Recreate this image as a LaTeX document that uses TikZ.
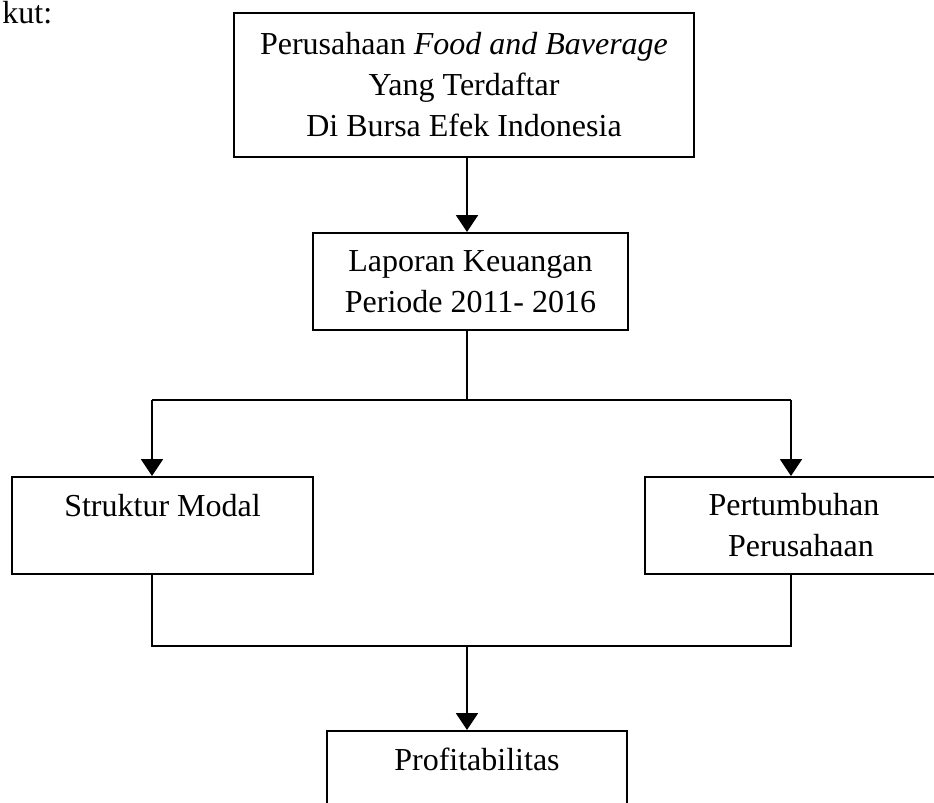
\documentclass[tikz,border=0pt]{standalone}
\usepackage{fontspec}
\setmainfont{Liberation Serif}
\usepackage{tikz}
\usetikzlibrary{positioning}
\usetikzlibrary{arrows.meta}
\tikzset{kotak/.style={draw, line width=1pt, inner sep=0pt, align=center, anchor=north west, minimum height=48.5pt, font=\fontsize{16}{20.5}\selectfont}}
\tikzset{panah/.style={line width=1pt, -{Triangle[width=11pt,length=8.5pt]}}}
\tikzset{garis/.style={line width=1pt}}

\begin{document}
\begin{tikzpicture}[x=0.5pt,y=-0.5pt]
\useasboundingbox (0,0) rectangle (934,803);
\clip (0,0) rectangle (934,803);
\node[anchor=north west, inner sep=0pt, font=\fontsize{16}{20.5}\selectfont] (kut) at (2,1) {kut:};
\node[kotak, minimum width=230pt, minimum height=72pt] (bei) at (233,12) {Perusahaan \textit{Food and Baverage}\\Yang Terdaftar\\Di Bursa Efek Indonesia};
\node[kotak, minimum width=157.5pt] (lapkeu) at (312,232) {Laporan Keuangan\\Periode 2011- 2016};
\node[kotak, minimum width=150.5pt] (modal) at (11,476) {Struktur Modal\\\mbox{}};
\node[kotak, minimum width=149pt] (tumbuh) at (644,476) {Pertumbuhan\\\hspace*{7pt}Perusahaan};
\node[kotak, minimum width=150pt] (profit) at (326,730) {Profitabilitas\\\mbox{}};
\coordinate (cabang) at (467,400);
\coordinate (kiri) at (152,400);
\coordinate (kanan) at (791,400);
\coordinate (gabung) at (467,646);
\draw[panah] (lapkeu.north -| cabang) ++(0,-76) -- (lapkeu.north -| cabang);
\draw[garis] (lapkeu.south -| cabang) -- (cabang);
\draw[garis] (kiri) -- (kanan);
\draw[panah] (kiri) -- (kiri |- modal.north);
\draw[panah] (kanan) -- (kanan |- tumbuh.north);
\draw[garis] (kiri |- modal.south) -- (kiri |- gabung) -- (kanan |- gabung) -- (kanan |- tumbuh.south);
\draw[panah] (gabung) -- (gabung |- profit.north);
\end{tikzpicture}
\end{document}
